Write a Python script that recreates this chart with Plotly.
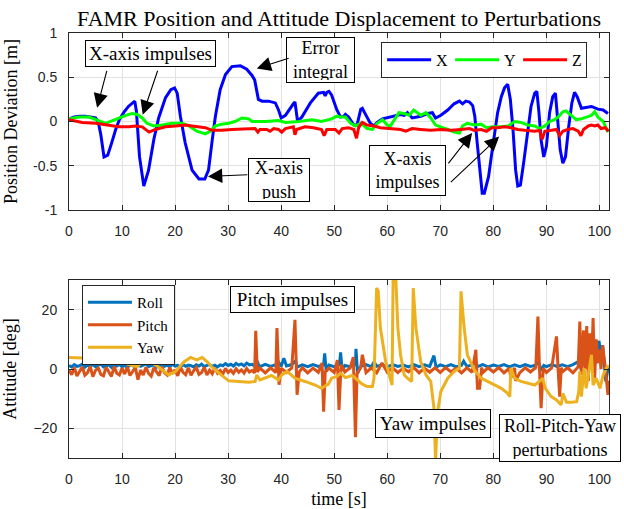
import plotly.graph_objects as go

# ---------------- data: top panel (position deviation, m) ----------------
X_T = [0, 1, 2, 3, 4, 5, 5.5, 6, 6.6, 7.3, 8, 8.8, 9.5, 10.3, 11.2, 11.9, 12.4, 12.7, 13.3, 14.1,
       15, 16, 16.9, 18.2, 19.2, 19.9, 20.4, 21, 21.9, 23.2, 24.5, 25.6, 26.3, 27, 27.6, 28.5, 29.5,
       30.7, 32.3, 33.5, 34.5, 35, 35.4, 35.7, 36.4, 37.6, 38.9, 39.5, 40, 40.8, 42.3, 42.6, 43.1,
       43.9, 45.5, 47, 48, 48.3, 48.6, 49, 49.5, 50.5, 51.2, 51.8, 52.1, 52.7, 53.7, 54.3, 55, 55.3,
       55.9, 56.8, 57.5, 58.1, 59.1, 60.3, 61.6, 62.5, 63.2, 63.8, 64.7, 65.4, 66.3, 67.6, 68.5,
       69.1, 70.1, 71.4, 72.6, 73.6, 74.2, 74.8, 75.5, 76.1, 76.5, 76.9, 77.4, 77.9, 78.3, 79.1,
       79.7, 80.2, 80.8, 81.5, 82.1, 82.7, 83.2, 83.7, 84.2, 84.6, 85.1, 85.7, 86.5, 87.1, 87.8,
       88.2, 88.6, 89, 89.5, 90, 90.6, 91.2, 91.7, 92.2, 92.6, 93.1, 93.6, 94.2, 94.8, 95.3, 95.8,
       96.6, 97.5, 98.5, 99.7, 100.7, 101.6]
X_V = [0.03, 0.05, 0.06, 0.06, 0.05, 0.04, 0.0, -0.15, -0.4, -0.38, -0.25, -0.09, 0.02, 0.1, 0.17,
       0.21, 0.23, 0.12, -0.4, -0.73, -0.55, -0.2, 0.04, 0.27, 0.36, 0.38, 0.32, 0.06, -0.24, -0.55,
       -0.65, -0.65, -0.55, -0.21, 0.06, 0.36, 0.53, 0.62, 0.63, 0.59, 0.52, 0.47, 0.36, 0.25, 0.23,
       0.23, 0.21, 0.13, 0.04, 0.07, 0.2, 0.22, 0.0, 0.05, 0.21, 0.32, 0.33, 0.29, 0.33, 0.34, 0.3,
       0.13, 0.05, 0.06, 0.08, 0.05, -0.04, -0.04, 0.14, 0.15, 0.08, -0.02, -0.05, -0.01, 0.03, 0.05,
       0.07, 0.08, 0.07, 0.1, 0.04, 0.05, 0.06, 0.09, 0.1, 0.04, 0.07, 0.13, 0.2, 0.23, 0.2, 0.23,
       0.22, 0.18, 0.06, -0.21, -0.55, -0.81, -0.81, -0.62, -0.36, -0.17, 0.1, 0.28, 0.38, 0.42,
       0.25, -0.09, -0.55, -0.73, -0.72, -0.47, -0.09, 0.17, 0.32, 0.34, 0.1, -0.21, -0.4, -0.28,
       0.1, 0.28, 0.32, 0.0, -0.32, -0.47, -0.4, -0.06, 0.21, 0.33, 0.28, 0.15, 0.16, 0.17, 0.14,
       0.13, 0.09]

Y_T = [0, 1.9, 3.8, 5.3, 6.9, 8.2, 9.4, 10.7, 11.9, 12.9, 13.8, 14.7, 16, 17.6, 19.4, 21.3, 22.6,
       24.1, 25.7, 26.6, 27.6, 28.8, 30.1, 31.3, 32.6, 33.9, 34.5, 37, 39.5, 40.8, 43.3, 45.8, 47.6,
       49.5, 50.5, 51.2, 52.1, 53.1, 54, 55, 55.6, 56.2, 57.2, 58.1, 59.1, 60, 60.6, 61.6, 62.2,
       63.2, 64.1, 65, 65.7, 66.3, 67.3, 68.2, 69.1, 70.1, 71.4, 72.6, 73.6, 74.2, 75.1, 76.4,
       77.7, 78.7, 79.9, 81.5, 82.8, 84, 85.2, 86.5, 87.8, 88.7, 89.7, 90.6, 91.5, 92.2, 93.1,
       93.7, 94.7, 95.6, 96.6, 97.5, 98.5, 99.1, 99.7, 100.7, 101.6]
Y_V = [0.03, 0.05, 0.05, 0.02, -0.02, 0.01, 0.04, 0.07, 0.09, 0.08, 0.04, -0.02, -0.05, -0.04,
       -0.02, -0.02, -0.05, -0.11, -0.14, -0.11, -0.05, -0.03, -0.02, 0.0, 0.04, 0.03, 0.0, 0.0,
       0.01, -0.01, 0.0, 0.02, 0.0, 0.03, 0.06, 0.05, 0.05, -0.02, -0.05, -0.02, -0.05, -0.08,
       -0.09, -0.02, 0.02, -0.04, -0.05, 0.04, 0.10, 0.09, 0.07, 0.13, 0.1, 0.07, 0.1, 0.04, -0.04,
       -0.06, -0.09, -0.12, -0.13, -0.05, -0.02, -0.04, -0.03, -0.07, -0.06, -0.06, -0.05, 0.0,
       -0.01, -0.04, -0.05, -0.08, -0.05, 0.0, 0.02, 0.05, 0.11, 0.12, 0.07, 0.02, 0.03, 0.05, 0.07,
       0.11, 0.05, 0.0, -0.12]

Z_T = [0, 2.5, 5, 7.5, 9.4, 11.3, 12.5, 13.8, 15.1, 16.3, 18.2, 20.1, 21.9, 23.2, 24.5, 25.7, 27,
       28.8, 30.7, 33.2, 35.1, 35.6, 36, 37.3, 37.9, 38.6, 39.5, 40.1, 40.8, 42.3, 42.6, 42.9, 44.5,
       46.1, 47.6, 48.1, 48.6, 50.2, 50.9, 51.5, 52.7, 53.7, 54.2, 54.6, 55.3, 56.2, 57.5, 58.7,
       60.6, 62.5, 63.5, 64.7, 66.3, 68.2, 70.1, 72, 73.9, 75.5, 76.4, 77.7, 78.7, 79.7, 80.8,
       82.1, 83.3, 84.6, 85.9, 87.8, 88.7, 89.2, 89.7, 90.9, 91.9, 92.5, 93.1, 94, 95, 96, 96.5,
       97, 97.9, 98.5, 99.1, 99.7, 100.3, 101.1, 101.7]
Z_V = [0.02, -0.01, -0.02, -0.04, -0.06, -0.06, -0.05, -0.06, -0.12, -0.09, -0.06, -0.05, -0.04,
       -0.05, -0.06, -0.07, -0.1, -0.1, -0.09, -0.08, -0.08, -0.12, -0.09, -0.09, -0.11, -0.08,
       -0.09, -0.12, -0.08, -0.06, -0.15, -0.09, -0.06, -0.07, -0.09, -0.16, -0.09, -0.09, -0.13,
       -0.08, -0.07, -0.09, -0.19, -0.07, -0.01, -0.04, -0.05, -0.07, -0.08, -0.09, -0.11, -0.08,
       -0.09, -0.1, -0.09, -0.1, -0.09, -0.08, -0.1, -0.09, -0.11, -0.07, -0.07, -0.06, -0.07,
       -0.09, -0.1, -0.11, -0.1, -0.2, -0.11, -0.1, -0.09, -0.16, -0.11, -0.09, -0.08, -0.11,
       -0.16, -0.09, -0.05, -0.04, -0.05, -0.04, -0.08, -0.07, -0.11]

# ---------------- data: bottom panel (attitude, deg) ----------------
ROLL_T = [0, 0.5, 1, 1.5, 2, 2.5, 3, 3.5, 4, 4.5, 5, 5.5, 6, 6.5, 7, 7.5, 8, 8.5, 9, 9.5, 10,
          10.5, 11, 11.5, 12, 12.5, 13, 13.5, 14, 14.5, 15, 15.5, 16, 16.5, 17, 17.5, 18, 18.5,
          19, 19.5, 20, 20.5, 21, 21.5, 22, 22.5, 23, 23.5, 24, 24.5, 25, 25.5, 26, 26.5, 27, 27.5,
          28, 28.5, 29, 29.5, 30, 30.5, 31, 31.5, 32, 32.5, 33, 33.5, 34, 34.5, 35,
          35.4, 35.8, 36, 37, 38, 39, 39.4, 40, 40.5, 41,
          42, 42.7, 43, 44, 45, 46, 47, 48, 48.2, 48.5, 49, 50, 51, 51.2, 51.5, 52, 53, 54, 54.1,
          54.4, 55, 56, 57, 57.5, 58, 59, 60, 61, 62, 63, 64, 65, 66, 67, 68, 68.8, 69.2, 70, 71, 72,
          73, 74, 74.4, 75, 76, 76.6, 77, 78, 79, 80, 81, 82, 83, 84, 85, 86, 87, 88, 88.5, 89, 89.5,
          90, 91, 92, 93, 94, 95, 96, 96.5, 97, 97.5, 98, 98.5, 99, 99.5, 99.9, 100.3, 100.6, 101,
          101.2, 101.5, 101.8]
ROLL_V = [1.2, 0.7, 1.5, 0.9, 1.1, 1.6, 0.6, 1.3, 0.9, 1.5, 0.8, 1.2, 1.7, 0.7, 1.1, 1.4, 0.6,
          1.3, 1.0, 1.6, 0.8, 1.2, 0.5, 1.4, 1.1, 0.7, 1.5, 0.9, 1.3, 1.7, 0.8, 1.1, 1.4, 0.6, 1.2,
          1.5, 0.9, 1.3, 0.7, 1.6, 1.0, 1.2, 0.6, 1.5, 0.9, 1.3, 1.1, 0.7, 1.4, 1.0, 1.6, 0.8, 1.2,
          1.5, 0.9, 1.3, 0.7, 1.4, 1.1, 1.8, 1.2, 1.6, 1.0, 1.9, 1.3, 1.7, 1.1, 2.0, 1.4, 1.6, 1.0,
          2.8, 1.2, 0.8, 1.6, 0.9, 1.5, 2.6, 0.9, 3.6, 1.0, 1.5, 2.8, 0.6, 1.4, 0.8, 1.5, 0.9, 1.4,
          5.3, -0.8, 1.3, 0.8, 1.5, 5.6, -0.5, 1.2, 0.8, 1.5, 6.8, -1.5, 0.9, 1.5, 0.7, 2.4, 0.9,
          1.4, 0.7, 1.5, 0.9, 1.3, 0.7, 1.5, 0.8, 1.4, 0.9, 4.5, 0.6, 1.4, 0.8, 1.5, 0.7, 1.3, 2.6,
          0.9, 1.4, 2.4, 0.8, 1.5, 0.7, 1.3, 0.9, 1.5, 0.7, 1.4, 0.8, 1.5, 0.9, 1.3, 2.5, -0.5, 1.2,
          0.8, 1.5, 0.9, 1.4, 0.8, 1.5, 2.5, 0.2, 3.0, 0.5, 3.5, 1.0, 4.5, 2.0, 9.5, 5.0, 8.0, -1.0,
          -4.2, -1.0, 0.5]

PITCH_T = [0, 0.5, 1, 1.5, 2, 2.5, 3, 3.5, 4, 4.5, 5, 5.5, 6, 6.5, 7, 7.5, 8, 8.5, 9, 9.5, 10,
           10.5, 11, 11.5, 12, 12.5, 13, 13.5, 14, 14.5, 15, 15.5, 16, 16.5, 17, 17.5, 18, 18.5,
           19, 19.5, 20, 20.5, 21, 21.5, 22, 22.5, 23, 23.5, 24, 24.5, 25, 25.5, 26, 26.5, 27, 27.5,
           28, 28.5, 29, 29.5, 30, 30.5, 31, 31.5, 32, 32.5, 33, 33.5, 34, 34.5, 35,
           35.2, 35.5, 36, 37, 38, 39, 39.2, 39.6,
           40, 41, 42, 42.6, 43.0, 43.4, 44, 45, 46, 47, 47.7, 48.0, 48.3, 49, 50, 50.6, 50.9, 51.3,
           52, 53, 53.6, 54.0, 54.3, 55, 55.3, 56, 57, 58, 59, 60, 61, 62, 63, 64, 65, 66, 67, 68,
           69, 70, 71, 72, 73, 74, 75, 76, 76.7, 77.0, 77.4, 77.8, 78, 79, 80, 81, 82, 83, 83.3, 84,
           84.2, 85, 86, 87, 88, 88.4, 88.7, 89.0, 89.4, 90, 91, 91.9, 92.2, 92.5, 92.8, 93, 94, 95,
           96, 96.3, 96.6, 97, 97.3, 97.6, 97.9, 98.2, 98.5, 98.8, 99.1, 99.4, 99.7, 100.0, 100.3,
           100.6, 101, 101.3, 101.6, 101.8]
PITCH_V = [-0.4, -1.9, 0.5, -2.4, -0.8, 0.7, -2.1, -1.2, 0.9, -2.6, -0.5, 0.4, -1.8, -2.3, 0.6,
           -1.0, -2.5, 0.8, -1.4, -2.0, 0.3, -1.7, 0.7, -2.2, -0.6, 0.5, -3.6, -0.4, -2.0, 0.6,
           -1.5, -2.4, 0.4, -0.9, -2.2, 0.7, -1.3, -2.0, 0.5, -1.6, -0.3, -2.3, 0.6, -1.1, -1.9,
           0.4, -2.1, -0.6, 0.5, -1.8, -1.2, 0.6, -2.0, -0.4, -1.6, 0.3, -1.4, -0.5, -1.7, 0.2,
           -1.2, -0.4, -1.5, 0.1, -1.1, -0.3, -1.4, 0.2, -1.0, -0.5, -1.3,
           12.9, -1.0, 0.3, -1.3, 0.4, -1.2, 13.8, -5.3, 0.3, -1.2,
           0.4, 16.6, -8.7, -1.0, 0.4, -1.3, 0.3, -1.1, 2.0, -14.4, -1.0, 0.3, -1.2, 3.0, -13.8, 1.5,
           -1.0, 0.4, 4.0, -23.0, -1.5, 0.5, 4.8, -1.2, 0.4, -1.3, 2.0, -1.1, 0.4, -1.2, 0.3, -1.0,
           0.5, -1.3, 0.3, -1.1, 0.4, -1.2, 0.5, -1.0, 0.3, -1.3, 0.4, -1.1, 6.5, -6.5, -6.5, 0.5,
           -1.2, 0.4, -1.0, 0.5, -1.3, 0.3, -3.0, 0.4, -4.0, -1.2, 0.4, -1.0, 0.5, 17.7, 0.0, -13.2,
           0.3, -1.2, 0.4, 11.0, 0.0, -9.3, 0.5, -1.0, 0.4, -1.3, 0.8, 16.0, -2.0, 13.0, 0.0, 14.5,
           -4.0, 12.0, 0.0, 17.2, -3.0, 10.0, 2.0, 6.5, 0.0, 8.0, 2.0, -5.0, -8.7, -4.0]

YAW_T = [0, 1.5, 3.1, 4, 4.6, 5.3, 6.3, 7.5, 8.3, 9.4, 10.6, 11.9, 12.9, 14.1, 15.7, 16.6, 17.6,
         18.8, 20.1, 21.6, 22.9, 24.1, 25.1, 26, 27.3, 28.8, 30.1, 32, 33.9, 35.1, 35.4, 36, 37,
         38.2, 39.5, 40.1, 41.1, 42.6, 44.5, 46.4, 47.6, 48.9, 49.5, 50.5, 51.2, 52.1, 53.4, 54.3,
         55.3, 56.2, 57.2, 57.5, 58.0, 58.3, 58.7, 59.7, 60.6, 60.9, 61.1, 61.6, 62.0, 62.5, 63.2,
         63.8, 64.6, 64.9, 65.4, 66.3, 67.3, 68.2, 68.8, 69.1, 69.5, 70.1, 71.4, 72.6, 73.6, 73.9,
         74.5, 75.1, 76.4, 77.7, 78.9, 80.2, 81.5, 82.7, 83.1, 83.3, 84, 85.2, 86.8, 87.8, 88.7,
         89.3, 89.8, 90.9, 91.9, 92.8, 93.1, 93.8, 94.7, 95.7, 96.1, 96.3, 96.6, 97.1, 97.5, 98.5,
         98.8, 99.4, 100.1, 100.7, 101.3, 101.8]
YAW_V = [3.9, 3.8, 3.7, 3.6, 4.5, 4.6, 3.7, 4.5, 4.2, 3.1, 2.0, 1.2, 0.8, 3.1, 2.0, 1.0, -0.3,
         -2.0, -0.8, 2.3, 3.9, 3.1, 3.9, 2.5, 0.0, -2.0, -4.0, -4.2, -4.5, -4.2, -2.0, -3.7, -3.1,
         -2.2, -3.7, -2.0, -0.8, -3.1, -4.2, -5.4, -6.5, -5.1, -3.1, -2.5, -1.4, -2.9, -2.2, -3.7,
         -5.1, -5.9, -5.9, -3.1, 27.3, 26.2, 13.8, 2.5, -4.2, -5.4, 31, 31, 13.8, 4.8, -2.0, -3.1,
         -4.2, 27.3, 13.8, 2.5, -2.0, -4.2, -13.2, -31, -14.4, -7.6, -3.1, -0.8, 0.3, 26.2, 13.8,
         4.8, -0.3, -3.1, -4.2, -5.4, -6.5, -8.2, -9.3, 0.3, -3.1, -4.2, -4.8, -5.4, -4.2, -3.1,
         -6.5, -9.3, -10.4, -12.1, -8.2, -11.2, -11.2, -11.0, -7.6, -0.8, -9.3, 0.3, -6.5, 4.8,
         -5.4, -3.1, -6.5, -2.0, 0.3, 1.2]

for a, b in [(X_T, X_V), (Y_T, Y_V), (Z_T, Z_V), (ROLL_T, ROLL_V), (PITCH_T, PITCH_V), (YAW_T, YAW_V)]:
    assert len(a) == len(b), (len(a), len(b))

X_TICKS = [0, 10, 20, 30, 40, 50, 60, 70, 80, 90, 100]
POS_TICKS = [-1, -0.5, 0, 0.5, 1]
POS_TICK_TEXT = ["-1", "-0.5", "0", "0.5", "1"]
ATT_TICKS = [-20, 0, 20]

SERIF = "Liberation Serif"
SANS = "Liberation Sans"
AX = "#262626"

fig = go.Figure()
fig.add_trace(go.Scatter(x=X_T, y=X_V, name="X", mode="lines", line=dict(color="#0000ff", width=3),
                         xaxis="x", yaxis="y", legend="legend"))
fig.add_trace(go.Scatter(x=Y_T, y=Y_V, name="Y", mode="lines", line=dict(color="#00ff00", width=3),
                         xaxis="x", yaxis="y", legend="legend"))
fig.add_trace(go.Scatter(x=Z_T, y=Z_V, name="Z", mode="lines", line=dict(color="#ff0000", width=3),
                         xaxis="x", yaxis="y", legend="legend"))
fig.add_trace(go.Scatter(x=ROLL_T, y=ROLL_V, name="Roll", mode="lines", line=dict(color="#0072BD", width=3),
                         xaxis="x2", yaxis="y2", legend="legend2"))
fig.add_trace(go.Scatter(x=PITCH_T, y=PITCH_V, name="Pitch", mode="lines", line=dict(color="#D95319", width=3),
                         xaxis="x2", yaxis="y2", legend="legend2"))
fig.add_trace(go.Scatter(x=YAW_T, y=YAW_V, name="Yaw", mode="lines", line=dict(color="#EDB120", width=3),
                         xaxis="x2", yaxis="y2", legend="legend2"))

axis_common = dict(showline=True, linecolor=AX, linewidth=1, mirror="ticks", ticks="inside",
                   ticklen=5, tickcolor=AX, showgrid=True, gridcolor="#e2e2e2", gridwidth=1,
                   zeroline=False, tickfont=dict(family=SANS, size=14, color=AX),
                   ticklabelstandoff=8, automargin=False)

TITLE_FONT = dict(family=SERIF, size=18, color="black")

fig.update_layout(
    width=624, height=509,
    margin=dict(l=69, r=15, t=33, b=51),
    paper_bgcolor="white", plot_bgcolor="white",
    title=dict(text="FAMR Position and Attitude Displacement to Perturbations",
               font=dict(family=SERIF, size=22, color="black"),
               x=0.5, xref="paper", y=1 - 18 / 509, yref="container", yanchor="middle"),
    xaxis=dict(domain=[0, 1], range=[0, 101.8], tickvals=X_TICKS, anchor="y", **axis_common),
    yaxis=dict(domain=[0.5835, 1], range=[-1, 1], tickvals=POS_TICKS, ticktext=POS_TICK_TEXT,
               anchor="x",
               title=dict(text="Position Deviation [m]", font=TITLE_FONT, standoff=10),
               **axis_common),
    xaxis2=dict(domain=[0, 1], range=[0, 101.8], tickvals=X_TICKS, anchor="y2",
                title=dict(text="time [s]", font=TITLE_FONT, standoff=8),
                **axis_common),
    yaxis2=dict(domain=[0, 0.4188], range=[-30, 30], tickvals=ATT_TICKS, anchor="x2",
                title=dict(text="Attitude [deg]", font=TITLE_FONT, standoff=14),
                **axis_common),
    legend=dict(orientation="h", x=0.578, y=0.979, xanchor="left", yanchor="top",
                bgcolor="white", bordercolor=AX, borderwidth=1, itemwidth=44,
                font=dict(family=SERIF, size=16, color="black"), entrywidth=9),
    legend2=dict(orientation="v", x=0.024, y=0.407, xanchor="left", yanchor="top",
                 bgcolor="white", bordercolor=AX, borderwidth=1, itemwidth=44,
                 font=dict(family=SERIF, size=15, color="black"), tracegroupgap=0),
    showlegend=True,
)

box = dict(showarrow=False, bgcolor="white", bordercolor="black", borderwidth=1, borderpad=2,
           xanchor="center", yanchor="middle")

# text boxes: (text, x, y, axis, width, height, font size)
BOXES = [
    ("X-axis impulses", 15.27, 0.771, "", 125, 21, 19),
    ("Error<br>integral", 47.5, 0.698, "", 63, 40, 18),
    ("X-axis<br>push", 39.68, -0.659, "", 56, 38, 18),
    ("X-axis<br>impulses", 63.9, -0.552, "", 71, 45, 18),
    ("Pitch impulses", 42.2, 23.4, "2", 119, 21, 19),
    ("Yaw impulses", 68.7, -18.2, "2", 110, 23, 19),
    ("Roll-Pitch-Yaw<br>perturbations", 92.65, -23.1, "2", 116, 42, 18),
]
for text, bx, by, ax, w, h, fs in BOXES:
    fig.add_annotation(text=text, x=bx, y=by, xref="x" + ax, yref="y" + ax, width=w, height=h,
                       font=dict(family=SERIF, size=fs, color="black"), **box)

# arrows: (head_x, head_y, tail_x, tail_y)
ARROWS = [
    (5.3, 0.155, 7.2, 0.59),
    (13.9, 0.076, 16.8, 0.59),
    (35.4, 0.60, 41.7, 0.72),
    (26.2, -0.62, 33.9, -0.60),
    (76.0, -0.13, 71.3, -0.49),
    (81.1, -0.17, 71.7, -0.70),
]
for hx, hy, tx, ty in ARROWS:
    fig.add_annotation(x=hx, y=hy, ax=tx, ay=ty, xref="x", yref="y", axref="x", ayref="y",
                       text="", showarrow=True, arrowhead=2, arrowsize=2.6, arrowwidth=1.1,
                       arrowcolor="black", standoff=0, startstandoff=0)

fig.write_html("out.html")
